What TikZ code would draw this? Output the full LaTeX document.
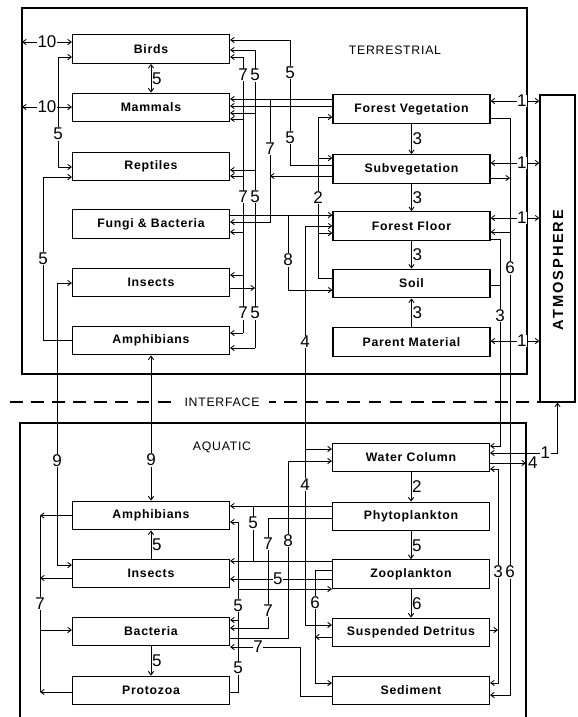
\documentclass[tikz,border=0pt]{standalone}
\usepackage{fontspec}
\setmainfont{Liberation Sans}
\newfontfamily\boxfont[LetterSpace=6]{Liberation Sans}
\newfontfamily\atmfont[LetterSpace=14]{Liberation Sans}
\usetikzlibrary{arrows.meta}

\begin{document}
\begin{tikzpicture}[x=0.03cm, y=-0.03cm, line width=0.75pt,
    >={Straight Barb[length=3pt,width=4.5pt]},
    box/.style={draw, line width=1pt, minimum width=4.71cm, minimum height=0.86cm,
        font=\boxfont\bfseries\fontsize{10.5}{12}\selectfont},
    num/.style={fill=white, inner sep=0.5pt, font=\fontsize{14.5}{15}\selectfont},
    side/.style={right=0pt, fill=none},
    title/.style={font=\boxfont\fontsize{10.5}{12}\selectfont}]
    \useasboundingbox (0,0) rectangle (577,717);

    % frames
    \draw[line width=1pt] (22,8) rectangle (527,374);
    \draw[line width=1pt] (20,717) -- (20,423) -- (526,423) -- (526,717);
    \draw[line width=1pt, dash pattern=on 11pt off 7pt] (10,402) -- (540,402);
    \node[title] (terr) at (395,50) {TERRESTRIAL};
    \node[title, fill=white, inner xsep=8pt] (iface) at (222,402) {INTERFACE};
    \node[title] (aqua) at (222,447) {AQUATIC};
    \node[draw, line width=1pt, minimum width=1.05cm, minimum height=9.21cm, inner sep=0pt]
        (atmos) at (557.5,248.5) {};
    \node[rotate=90, font=\atmfont\bfseries\fontsize{12.5}{14}\selectfont] (atmlabel) at (558,270) {ATMOSPHERE};

    % compartments
    \node[box] (birds) at (151,49) {Birds};
    \node[box] (mammals) at (151,107.5) {Mammals};
    \node[box] (reptiles) at (151,166.5) {Reptiles};
    \node[box] (fungi) at (151,224) {Fungi \& Bacteria};
    \node[box] (insects) at (151,282.5) {Insects};
    \node[box] (amph) at (151,340.5) {Amphibians};
    \node[box] (fveg) at (411.5,109) {Forest Vegetation};
    \node[box] (subveg) at (411.5,169) {Subvegetation};
    \node[box] (ffloor) at (411.5,226) {Forest Floor};
    \node[box] (soil) at (411.5,283.5) {Soil};
    \node[box] (parent) at (411.5,342) {Parent Material};
    \node[box] (water) at (411,457.5) {Water Column};
    \node[box] (phyto) at (411,516.5) {Phytoplankton};
    \node[box] (zoo) at (411,574) {Zooplankton};
    \node[box] (detritus) at (411,632.5) {Suspended Detritus};
    \node[box] (sediment) at (411,690.5) {Sediment};
    \node[box] (aqamph) at (151,515.5) {Amphibians};
    \node[box] (aqins) at (151,573.5) {Insects};
    \node[box] (bact) at (151,631.5) {Bacteria};
    \node[box] (proto) at (151,690.5) {Protozoa};

    \coordinate (edgeA) at (22,42);
    \coordinate (edgeB) at (22,107);
    \coordinate (edgeC) at (526,463);

    % terrestrial, animals
    \draw[<->] (edgeA) -- node[num]{10} (birds.west|-0,42);
    \draw[<->] (edgeB) -- node[num]{10} (mammals.west|-0,107);
    \draw[<->] (birds.south) -- node[num, side]{5} (mammals.north);
    \draw[<->] (birds.west|-0,57) -- (58,57) -- node[num, pos=.7]{5} (58,167) -- (reptiles.west|-0,167);
    \draw[->] (amph.west|-0,340) -- (43,340) -- node[num]{5} (43,177) -- (reptiles.west|-0,177);
    \draw[<->] (insects.west|-0,283) -- (57,283) -- node[num, pos=.63]{9} (57,565) -- (aqins.west|-0,565);
    \draw[<->] (amph.south) -- node[num, pos=.72]{9} (aqamph.north);

    \draw (243,57) -- node[num, pos=.065]{7} node[num, pos=.507]{7} node[num, pos=.928]{7} (243,333);
    \draw (255,50) -- node[num, pos=.084]{5} node[num, pos=.493]{5} node[num, pos=.883]{5} (255,348);
    \foreach \b/\y in {birds/57, mammals/119, reptiles/176, fungi/232, insects/275, amph/333}
        \draw[->] (243,\y) -- (\b.east|-0,\y);
    \foreach \b/\y in {birds/50, mammals/113, reptiles/170, amph/348}
        \draw[->] (255,\y) -- (\b.east|-0,\y);
    \draw[->] (insects.east|-0,288) -- (255,288);

    % terrestrial, plants and decomposers
    \draw[->] (fveg.west|-0,99) -- (mammals.east|-0,99);
    \draw[->] (fveg.west|-0,106) -- (mammals.east|-0,106);
    \draw[->] (270,99) -- node[num, pos=.4]{7} (270,222) -- (fungi.east|-0,222);
    \draw[->] (subveg.west|-0,176) -- (270,176);
    \draw[->] (subveg.west|-0,165) -- (290,165) -- node[num, pos=.22]{5} node[num, pos=.74]{5} (290,40) -- (birds.east|-0,40);
    \draw[->] (fungi.east|-0,215) -- (ffloor.west|-0,215);
    \draw[->] (288,215) -- node[num, pos=.6]{8} (288,290) -- (soil.west|-0,290);
    \draw[->] (soil.west|-0,278) -- (318,278) -- node[num]{2} (318,117) -- (fveg.west|-0,117);
    \draw[->] (318,158) -- (subveg.west|-0,158);
    \draw[->] (318,233) -- (ffloor.west|-0,233);
    \draw[<->] (ffloor.west|-0,226) -- (305,226) -- node[num, pos=.52]{4} (305,449) -- (water.west|-0,449);
    \draw[->] (305,449) -- node[num, pos=.2]{4} (305,625) -- (detritus.west|-0,625);

    \draw[->] (fveg.south) -- node[num, side]{3} (subveg.north);
    \draw[->] (subveg.south) -- node[num, side]{3} (ffloor.north);
    \draw[->] (ffloor.south) -- node[num, side]{3} (soil.north);
    \draw[->] (parent.north) -- node[num, side]{3} (soil.south);
    \foreach \b/\y in {fveg/101, subveg/163, ffloor/218, parent/341}
        \draw[<->] (\b.east|-0,\y) -- node[num, pos=.64]{1} (atmos.west|-0,\y);
    \draw[->] (fveg.east|-0,118) -- (510,118) -- node[num, pos=.26]{6} node[num, pos=.787]{6} (510,695) -- (sediment.east|-0,695);
    \draw[->] (subveg.east|-0,178) -- (510,178);
    \draw[->] (510,232) -- (ffloor.east|-0,232);
    \draw[->] (ffloor.east|-0,239) -- (500,239) -- node[num, pos=.37]{3} (500,446) -- (water.east|-0,446);
    \draw (soil.east|-0,285) -- (500,285);

    % aquatic
    \draw[<->] (water.east|-0,453) -- node[num, pos=.82]{1} (atmos.south|-0,453) -- (atmos.south);
    \draw[->] (water.east|-0,463) -- (edgeC) node[num, right=1pt, fill=none]{4};
    \draw[<->] (sediment.east|-0,683) -- (498,683) -- node[num, pos=.52]{3} (498,469) -- (water.east|-0,469);
    \draw[->] (detritus.east|-0,630) -- (498,630);
    \draw[->] (water.south) -- node[num, side]{2} (phyto.north);
    \draw[->] (phyto.south) -- node[num, side]{5} (zoo.north);
    \draw[->] (zoo.south) -- node[num, side]{6} (detritus.north);

    \draw[->] (phyto.west|-0,506) -- (aqamph.east|-0,506);
    \draw (253,506) -- node[num, pos=.31]{5} (253,561);
    \draw[->] (zoo.west|-0,561) -- (aqins.east|-0,561);
    \draw[->] (zoo.west|-0,579) -- node[num, pos=.53]{5} (aqins.east|-0,579);
    \draw[->] (phyto.west|-0,518) -- (268,518) -- node[num, pos=.23]{7} node[num, pos=.84]{7} (268,628) -- (bact.east|-0,628);
    \draw[->] (proto.east|-0,692) -- (238,692) -- node[num, pos=.14]{5} node[num, pos=.51]{5} (238,522) -- (aqamph.east|-0,522);
    \draw[->] (238,589) -- (zoo.west|-0,589);
    \draw[->] (238,620) -- (bact.east|-0,620);
    \draw[->] (zoo.west|-0,570) -- (315,570) -- node[num, pos=.29]{6} (315,683) -- (sediment.west|-0,683);
    \draw[->] (detritus.west|-0,637) -- (315,637);
    \draw[->] (sediment.west|-0,696) -- (300,696) -- (300,647) -- node[num, pos=.6]{7} (bact.east|-0,647);
    \draw[->] (bact.east|-0,638) -- (288,638) -- node[num, pos=.55]{8} (288,461) -- (water.west|-0,461);

    \draw (40,515.5) -- node[num]{7} (40,692);
    \draw[->] (aqamph.west) -- (40,515.5);
    \draw[->] (aqins.west|-0,578) -- (40,578);
    \draw[->] (proto.west|-0,692) -- (40,692);
    \draw[->] (40,630) -- (bact.west|-0,630);
    \draw[->] (aqins.north) -- node[num, side]{5} (aqamph.south);
    \draw[->] (bact.south) -- node[num, side]{5} (proto.north);
\end{tikzpicture}
\end{document}
